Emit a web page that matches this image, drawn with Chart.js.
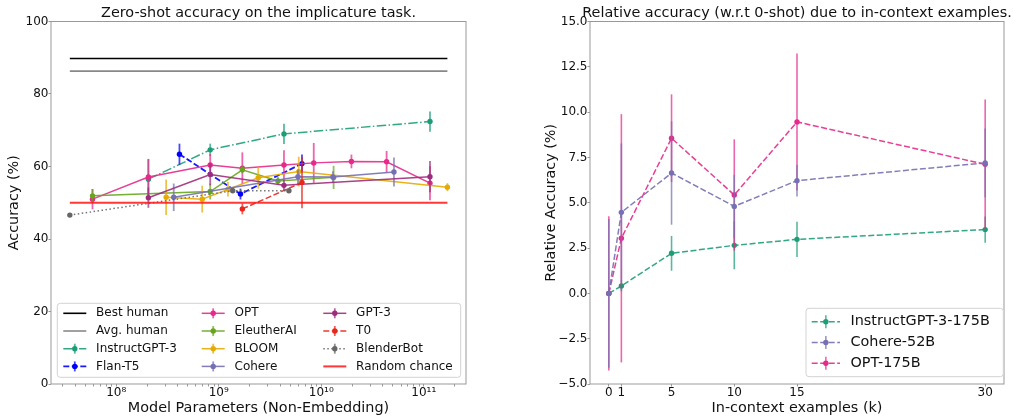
<!DOCTYPE html>
<html>
<head>
<meta charset="utf-8">
<script src="https://cdn.jsdelivr.net/npm/chart.js@4.4.1/dist/chart.umd.min.js"></script>
<style>
  html, body { margin: 0; padding: 0; background: #fff; }
  #wrap { position: relative; width: 1013px; height: 417px; }
  #zeroShot { position: absolute; left: 0; top: 0; }
  #fewShot { position: absolute; left: 520px; top: 0; }
</style>
</head>
<body>
<div id="wrap">
  <canvas id="zeroShot" width="520" height="417"></canvas>
  <canvas id="fewShot" width="493" height="417"></canvas>
</div>
<script>
// ---------- zero-shot panel (x = non-embedding parameters) ----------
const bestHuman = 89.8;
const avgHuman = 86.3;
const randomChance = 50;
const refSpan = [3.53e7, 1.70e11];

const instructParams = [2.06e8, 8.26e8, 4.33e9, 1.15e11];
const instructAcc = [56.5, 64.6, 69.0, 72.4];
const instructErr = [5.5, 1.7, 2.8, 2.8];

const flanParams = [4.14e8, 1.63e9, 6.49e9];
const flanAcc = [63.4, 52.4, 60.8];
const flanErr = [2.9, 1.5, 2.5];

const optParams = [5.87e7, 2.06e8, 8.26e8, 1.70e9, 4.33e9, 8.45e9, 1.97e10, 4.34e10, 1.15e11];
const optAcc = [51.0, 57.1, 60.4, 59.5, 60.4, 61.0, 61.4, 61.3, 55.4];
const optErr = [2.8, 5.0, 3.0, 4.4, 4.1, 5.5, 1.9, 3.0, 4.7];

const eleutherParams = [5.87e7, 8.26e8, 1.70e9, 3.78e9, 1.32e10];
const eleutherAcc = [51.9, 53.1, 59.1, 56.0, 57.0];
const eleutherErr = [1.9, 2.2, 1.0, 1.1, 3.2];

const bloomParams = [3.07e8, 6.90e8, 1.23e9, 2.43e9, 6.03e9, 1.70e11];
const bloomAcc = [51.5, 51.0, 53.7, 56.9, 58.6, 54.3];
const bloomErr = [4.9, 3.7, 2.0, 3.0, 4.1, 1.1];

const cohereParams = [3.64e8, 5.93e9, 1.30e10, 5.12e10];
const cohereAcc = [51.5, 57.2, 57.1, 58.5];
const cohereErr = [3.8, 2.0, 1.6, 4.0];

const gpt3Params = [2.06e8, 8.26e8, 4.33e9, 1.15e11];
const gpt3Acc = [51.4, 57.8, 54.8, 57.2];
const gpt3Err = [2.8, 3.0, 1.5, 4.3];

const t0Params = [1.70e9, 6.49e9];
const t0Acc = [48.3, 55.6];
const t0Err = [1.5, 7.1];

const blenderParams = [3.53e7, 1.37e9, 4.84e9];
const blenderAcc = [46.6, 53.3, 53.3];
const blenderErr = [0, 0, 0];

const paramPowers = [8, 9, 10, 11];
const accTicks = [0, 20, 40, 60, 80, 100];

// ---------- few-shot panel ----------
const shotK = [0, 1, 5, 10, 15, 30];
const instructRel = [0.0, 0.41, 2.21, 2.65, 2.98, 3.52];
const instructRelErr = [0, 0.3, 0.96, 1.32, 0.97, 0.72];
const cohereRel = [0.0, 4.47, 6.64, 4.80, 6.22, 7.20];
const cohereRelErr = [4.1, 3.8, 2.85, 1.75, 0.88, 1.9];
const optRel = [0.0, 3.04, 8.56, 5.43, 9.46, 7.12];
const optRelErr = [4.25, 6.85, 2.42, 3.07, 3.78, 3.57];

Chart.defaults.font.family = '"DejaVu Sans", sans-serif';
Chart.defaults.color = '#111';

const SUP = {'0': '⁰', '1': '¹', '2': '²', '3': '³', '4': '⁴', '5': '⁵', '6': '⁶', '7': '⁷', '8': '⁸', '9': '⁹'};

function withAlpha(hex, a) {
    const n = parseInt(hex.slice(1), 16);
    return `rgba(${(n >> 16) & 255},${(n >> 8) & 255},${n & 255},${a})`;
}

function pairs(xs, ys) {
    return xs.map((x, i) => ({x: x, y: ys[i]}));
}

function series(label, xs, ys, errs, color, dash, z, width) {
    return {
        label: label,
        data: pairs(xs, ys),
        errors: errs,
        borderColor: withAlpha(color, 0.9),
        backgroundColor: color,
        pointBackgroundColor: color,
        pointBorderColor: color,
        pointBorderWidth: 0,
        pointRadius: 2.7,
        borderWidth: width || 1.5,
        borderDash: dash,
        errColor: withAlpha(color, 0.72),
        errWidth: 1.8,
        order: -z,
    };
}

function flatLine(label, level, color, width, z) {
    return {
        label: label,
        data: pairs(refSpan, [level, level]),
        borderColor: color,
        borderWidth: width,
        pointRadius: 0,
        order: -z,
    };
}

// vertical error bars, drawn just before each dataset so stacking follows draw order
const errorBars = {
    id: 'errorBars',
    beforeDatasetDraw(chart, args) {
        const ds = chart.data.datasets[args.index];
        if (!ds.errors) return;
        const ctx = chart.ctx;
        const yScale = chart.scales.y;
        ctx.save();
        ctx.strokeStyle = ds.errColor;
        ctx.lineWidth = ds.errWidth;
        args.meta.data.forEach((pt, i) => {
            const e = ds.errors[i];
            if (!e) return;
            const v = ds.data[i].y;
            ctx.beginPath();
            ctx.moveTo(pt.x, yScale.getPixelForValue(v - e));
            ctx.lineTo(pt.x, yScale.getPixelForValue(v + e));
            ctx.stroke();
        });
        ctx.restore();
    }
};

// title is centred on the axes; let it run wider than the axes instead of squeezing it
const wideTitle = {
    id: 'wideTitle',
    afterLayout(chart) {
        const t = chart.titleBlock;
        if (!t) return;
        t.left -= 60;
        t.right += 60;
    }
};

const frameBox = {
    id: 'frameBox',
    afterDatasetsDraw(chart) {
        const {ctx, chartArea: a} = chart;
        ctx.save();
        ctx.strokeStyle = '#999';
        ctx.lineWidth = 1;
        ctx.strokeRect(a.left, a.top, a.right - a.left, a.bottom - a.top);
        ctx.restore();
    }
};

// matplotlib-like framed legend inside the axes, filled column by column
const boxLegend = {
    id: 'boxLegend',
    afterDraw(chart, args, o) {
        if (!o.rows) return;
        const {ctx, chartArea: a} = chart;
        const left = o.side === 'right' ? a.right - o.inset - o.width : a.left + o.inset;
        const top = a.bottom - o.bottomInset - o.height;
        ctx.save();
        ctx.beginPath();
        if (ctx.roundRect) ctx.roundRect(left, top, o.width, o.height, 3);
        else ctx.rect(left, top, o.width, o.height);
        ctx.fillStyle = 'rgba(255,255,255,0.8)';
        ctx.fill();
        ctx.strokeStyle = '#d2d2d2';
        ctx.lineWidth = 1;
        ctx.stroke();
        ctx.font = o.fontSize + 'px "DejaVu Sans"';
        ctx.textBaseline = 'middle';
        chart.data.datasets.forEach((ds, i) => {
            const col = Math.floor(i / o.rows);
            const row = i % o.rows;
            const hx = left + o.colX[col];
            const hy = top + o.firstRow + row * o.rowGap;
            const mid = hx + o.handleLen / 2;
            ctx.strokeStyle = ds.borderColor;
            ctx.lineWidth = ds.borderWidth;
            ctx.setLineDash(ds.borderDash || []);
            ctx.beginPath();
            ctx.moveTo(hx, hy);
            ctx.lineTo(hx + o.handleLen, hy);
            ctx.stroke();
            ctx.setLineDash([]);
            if (ds.errors) {
                ctx.strokeStyle = ds.errColor;
                ctx.lineWidth = ds.errWidth;
                ctx.beginPath();
                ctx.moveTo(mid, hy - o.barHalf);
                ctx.lineTo(mid, hy + o.barHalf);
                ctx.stroke();
                ctx.fillStyle = ds.pointBackgroundColor;
                ctx.beginPath();
                ctx.arc(mid, hy, ds.pointRadius, 0, Math.PI * 2);
                ctx.fill();
            }
            ctx.fillStyle = '#111';
            ctx.fillText(ds.label, hx + o.handleLen + o.textGap, hy);
        });
        ctx.restore();
    }
};

const dashed = [6, 2.5];
const dashDot = [9.5, 2.4, 1.5, 2.4];
const dotted = [1.5, 2.5];

const zeroShotSets = [
    flatLine('Best human', bestHuman, '#000000', 1.6, 0),
    flatLine('Avg. human', avgHuman, '#888888', 1.6, 1),
    series('InstructGPT-3', instructParams, instructAcc, instructErr, '#1b9e77', dashDot, 2),
    series('Flan-T5', flanParams, flanAcc, flanErr, '#0000ff', dashed, 3, 1.8),
    series('OPT', optParams, optAcc, optErr, '#e7298a', [], 4),
    series('EleutherAI', eleutherParams, eleutherAcc, eleutherErr, '#66a61e', [], 5),
    series('BLOOM', bloomParams, bloomAcc, bloomErr, '#e6ab02', [], 6),
    series('Cohere', cohereParams, cohereAcc, cohereErr, '#7570b3', [], 7),
    series('GPT-3', gpt3Params, gpt3Acc, gpt3Err, '#9c2d7d', [], 8),
    series('T0', t0Params, t0Acc, t0Err, '#e8261c', dashed, 9),
    series('BlenderBot', blenderParams, blenderAcc, blenderErr, '#666666', dotted, 10),
    flatLine('Random chance', randomChance, 'rgba(255,20,20,0.85)', 2, 11),
];

const tickFont = {size: 12, lineHeight: 1};
const axisTitleFont = {size: 14.4, lineHeight: 1.2};
const titleFont = {size: 14.4, weight: 'normal', lineHeight: 1};

new Chart(document.getElementById('zeroShot'), {
    type: 'line',
    data: {datasets: zeroShotSets},
    options: {
        responsive: false,
        animation: false,
        layout: {padding: {left: 0, right: 54, top: 0, bottom: 0}},
        elements: {line: {tension: 0, fill: false}},
        scales: {
            x: {
                type: 'logarithmic',
                min: Math.pow(10, 7.364),
                max: Math.pow(10, 11.412),
                border: {display: false},
                grid: {drawOnChartArea: false, drawTicks: true, tickLength: 2.5, tickColor: '#999'},
                afterBuildTicks(axis) {
                    const ticks = [];
                    for (let p = 7; p <= 11; p++) {
                        for (let m = 1; m <= 9; m++) {
                            const v = m * Math.pow(10, p);
                            if (v >= axis.min && v <= axis.max) ticks.push({value: v, major: m === 1});
                        }
                    }
                    axis.ticks = ticks;
                },
                ticks: {
                    autoSkip: false,
                    maxRotation: 0,
                    padding: 0.8,
                    font: tickFont,
                    callback(value) {
                        const p = Math.round(Math.log10(value));
                        if (!paramPowers.includes(p) || Math.abs(value / Math.pow(10, p) - 1) > 1e-6) return '';
                        return '10' + String(p).split('').map(c => SUP[c]).join('');
                    }
                },
                title: {display: true, text: 'Model Parameters (Non-Embedding)', font: axisTitleFont, padding: {top: 0, bottom: 0}},
                afterFit(axis) { axis.height = 33; }
            },
            y: {
                min: 0,
                max: 100,
                border: {display: false},
                grid: {drawOnChartArea: false, drawTicks: true, tickLength: 2.5, tickColor: '#999'},
                afterBuildTicks(axis) { axis.ticks = accTicks.map(v => ({value: v})); },
                ticks: {padding: 0, font: tickFont},
                title: {display: true, text: 'Accuracy (%)', font: axisTitleFont, padding: {top: 6, bottom: 0}},
                afterFit(axis) { axis.width = 51; }
            }
        },
        plugins: {
            legend: {display: false},
            tooltip: {enabled: false},
            title: {
                display: true,
                fullSize: false,
                text: 'Zero-shot accuracy on the implicature task.',
                font: titleFont,
                color: '#111',
                padding: {top: 6, bottom: 1.1}
            },
            boxLegend: {
                rows: 4, side: 'left', inset: 6.3, bottomInset: 6.7, width: 403.4, height: 74,
                colX: [6, 144.4, 266], firstRow: 10, rowGap: 17.7, handleLen: 23, textGap: 9.8,
                fontSize: 12, barHalf: 5
            }
        }
    },
    plugins: [errorBars, wideTitle, frameBox, boxLegend]
});

// ---------- few-shot chart ----------
const fewShotSets = [
    series('InstructGPT-3-175B', shotK, instructRel, instructRelErr, '#1b9e77', dashed, 0),
    series('Cohere-52B', shotK, cohereRel, cohereRelErr, '#7570b3', dashed, 2),
    series('OPT-175B', shotK, optRel, optRelErr, '#e7298a', dashed, 1),
];
fewShotSets.forEach(ds => { ds.errWidth = 1.6; });

new Chart(document.getElementById('fewShot'), {
    type: 'line',
    data: {datasets: fewShotSets},
    options: {
        responsive: false,
        animation: false,
        layout: {padding: {left: 0, right: 9, top: 0, bottom: 0}},
        elements: {line: {tension: 0, fill: false}},
        scales: {
            x: {
                type: 'linear',
                min: -1.5,
                max: 31.5,
                border: {display: false},
                grid: {drawOnChartArea: false, drawTicks: true, tickLength: 2.5, tickColor: '#999'},
                afterBuildTicks(axis) { axis.ticks = shotK.map(v => ({value: v})); },
                ticks: {autoSkip: false, maxRotation: 0, padding: 0.8, font: tickFont},
                title: {display: true, text: 'In-context examples (k)', font: axisTitleFont, padding: {top: 0, bottom: 0}},
                afterFit(axis) { axis.height = 33; }
            },
            y: {
                min: -5,
                max: 15,
                border: {display: false},
                grid: {drawOnChartArea: false, drawTicks: true, tickLength: 2.5, tickColor: '#999'},
                ticks: {
                    stepSize: 2.5,
                    padding: 0,
                    font: tickFont,
                    callback: v => (v < 0 ? '\u2212' : '') + Math.abs(v).toFixed(1)
                },
                title: {display: true, text: 'Relative Accuracy (%)', font: axisTitleFont, padding: {top: 23, bottom: 0}},
                afterFit(axis) { axis.width = 70; }
            }
        },
        plugins: {
            legend: {display: false},
            tooltip: {enabled: false},
            title: {
                display: true,
                fullSize: false,
                text: 'Relative accuracy (w.r.t 0-shot) due to in-context examples.',
                font: titleFont,
                color: '#111',
                padding: {top: 6, bottom: 1.1}
            },
            boxLegend: {
                rows: 3, side: 'right', inset: 0.7, bottomInset: 7.3, width: 197.3, height: 68.4,
                colX: [5.7], firstRow: 13.4, rowGap: 20.8, handleLen: 28.3, textGap: 10.5,
                fontSize: 14.4, barHalf: 6.5
            }
        }
    },
    plugins: [errorBars, wideTitle, frameBox, boxLegend]
});
</script>
</body>
</html>
